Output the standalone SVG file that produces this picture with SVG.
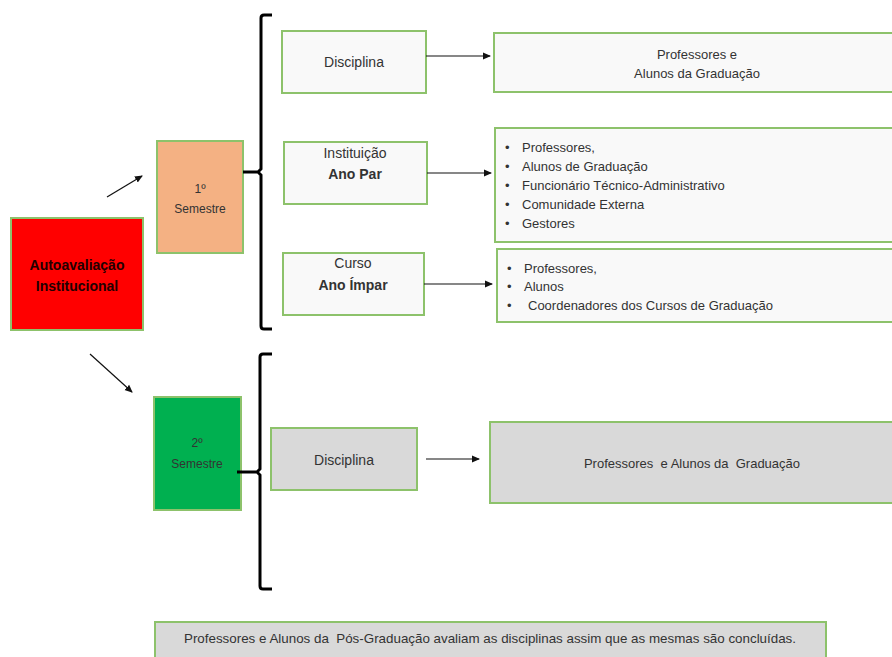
<svg xmlns="http://www.w3.org/2000/svg" width="892" height="657" viewBox="0 0 892 657">
<defs>
<marker id="ah" markerWidth="8" markerHeight="8" refX="7" refY="4" orient="auto" markerUnits="userSpaceOnUse">
<path d="M0,0.5 L8,4 L0,7.5 Z" fill="#111"/>
</marker>
<style>
.box{stroke:#8dc26b;stroke-width:2}
.w{fill:#f9f9f9}
.g{fill:#d9d9d9}
.t{font-family:"Liberation Sans",Arial,sans-serif;fill:#333;font-size:13px;white-space:pre}
.c{text-anchor:middle}
.b{font-weight:bold}
.conn{stroke:#111;stroke-width:1.2;fill:none}
.br{stroke:#000;stroke-width:3;fill:none}
</style>
</defs>
<rect width="892" height="657" fill="#fff"/>

<g id="autoavaliacao">
<rect class="box" x="11" y="218" width="132" height="112" fill="#ff0000"/>
<text class="t c b" x="77" y="270" style="fill:#200;font-size:14px">Autoavaliação</text>
<text class="t c b" x="77" y="291" style="fill:#200;font-size:14px">Institucional</text>
</g>

<g id="sem1">
<rect class="box" x="157" y="141" width="86" height="112" fill="#f4b183"/>
<text class="t c" x="200" y="193" style="font-size:12px">1º</text>
<text class="t c" x="200" y="213" style="font-size:12px">Semestre</text>
</g>

<g id="sem2">
<rect class="box" x="154" y="397" width="87" height="113" fill="#00b050"/>
<text class="t c" x="197" y="447" style="font-size:12px">2º</text>
<text class="t c" x="197" y="468" style="font-size:12px">Semestre</text>
</g>

<g id="disc1">
<rect class="box w" x="282" y="31" width="144" height="62"/>
<text class="t c" x="354" y="67" style="font-size:14px">Disciplina</text>
</g>

<g id="inst">
<rect class="box w" x="284" y="142" width="143" height="62"/>
<text class="t c" x="355" y="158" style="font-size:14px">Instituição</text>
<text class="t c b" x="355" y="179" style="font-size:14px">Ano Par</text>
</g>

<g id="curso">
<rect class="box w" x="283" y="253" width="141" height="62"/>
<text class="t c" x="353" y="268" style="font-size:14px">Curso</text>
<text class="t c b" x="353" y="290" style="font-size:14px">Ano Ímpar</text>
</g>

<g id="disc2">
<rect class="box g" x="271" y="428" width="146" height="62"/>
<text class="t c" x="344" y="465" style="font-size:14px">Disciplina</text>
</g>

<g id="res1">
<rect class="box w" x="494" y="33" width="402" height="59"/>
<text class="t c" x="697" y="59">Professores e</text>
<text class="t c" x="697" y="78">Alunos da Graduação</text>
</g>

<g id="res2">
<rect class="box w" x="495" y="128" width="401" height="114"/>
<text class="t" x="505" y="152">•</text><text class="t" x="522" y="152">Professores,</text>
<text class="t" x="505" y="171">•</text><text class="t" x="522" y="171">Alunos de Graduação</text>
<text class="t" x="505" y="190">•</text><text class="t" x="522" y="190">Funcionário Técnico-Administrativo</text>
<text class="t" x="505" y="209">•</text><text class="t" x="522" y="209">Comunidade Externa</text>
<text class="t" x="505" y="228">•</text><text class="t" x="522" y="228">Gestores</text>
</g>

<g id="res3">
<rect class="box w" x="497" y="249" width="399" height="73"/>
<text class="t" x="507" y="273">•</text><text class="t" x="524" y="273">Professores,</text>
<text class="t" x="507" y="291">•</text><text class="t" x="524" y="291">Alunos</text>
<text class="t" x="507" y="310">•</text><text class="t" x="528" y="310">Coordenadores dos Cursos de Graduação</text>
</g>

<g id="res4">
<rect class="box g" x="490" y="422" width="406" height="81"/>
<text class="t c" x="692" y="468" xml:space="preserve">Professores  e Alunos da  Graduação</text>
</g>

<g id="nota">
<rect class="box g" x="155" y="622" width="671" height="40"/>
<text class="t c" x="490" y="643" xml:space="preserve" textLength="612" lengthAdjust="spacingAndGlyphs">Professores e Alunos da  Pós-Graduação avaliam as disciplinas assim que as mesmas são concluídas.</text>
</g>

<g id="connectors">
<path class="conn" d="M107,197 L142,176" marker-end="url(#ah)"/>
<path class="conn" d="M90,354 L132,392" marker-end="url(#ah)"/>
<path class="conn" d="M426,56 L490,56" marker-end="url(#ah)"/>
<path class="conn" d="M427,173 L491,173" marker-end="url(#ah)"/>
<path class="conn" d="M424,284 L492,284" marker-end="url(#ah)"/>
<path class="conn" d="M426,459 L479,459" marker-end="url(#ah)"/>
<path class="br" d="M272,15 H264 Q261,15 261,18 V169 L258,172 H243 M258,172 L261,175 V326 Q261,329 264,329 H272"/>
<path class="br" d="M272,354 H263 Q260,354 260,357 V469 L257,472 H237 M257,472 L260,475 V586 Q260,589 263,589 H272"/>
</g>
</svg>
